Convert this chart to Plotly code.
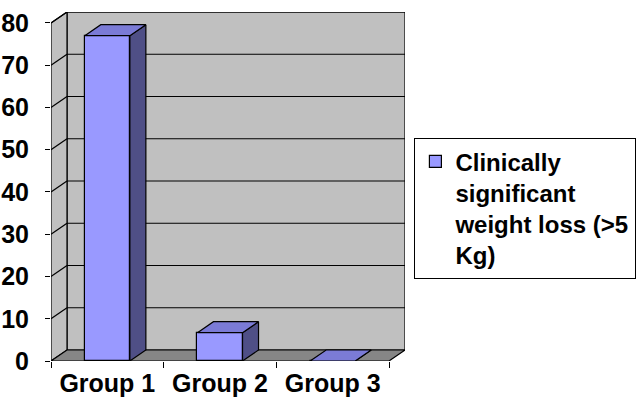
import plotly.graph_objects as go

# Data
groups = ["Group 1", "Group 2", "Group 3"]
weight_loss = [77, 6.7, 0]
y_ticks = [0, 10, 20, 30, 40, 50, 60, 70, 80]
series_name = "Clinically<br>significant<br>weight loss (>5<br>Kg)"

# 3-D look: oblique depth offset expressed in axis units
DX = 0.142          # depth shift along the category axis
DY = 2.6            # depth shift along the value axis
BAR_W = 0.4
X0, X1 = -0.5, len(groups) - 0.5
YMAX = y_ticks[-1]

FRONT = "#9999FF"
TOP = "#7B7BD6"
SIDE = "#4F4F86"
WALL = "#C0C0C0"
FLOOR = "#868686"
FONT = "Liberation Sans, Arial, sans-serif"
FS = 25


def path(pts):
    return "M " + " L ".join(f"{x},{y}" for x, y in pts) + " Z"


shapes = []
# back wall
shapes.append(dict(type="path", xref="x", yref="y", layer="below",
                   path=path([(X0 + DX, DY), (X1 + DX, DY), (X1 + DX, YMAX + DY), (X0 + DX, YMAX + DY)]),
                   fillcolor=WALL, line=dict(color="black", width=1.2)))
# side wall
shapes.append(dict(type="path", xref="x", yref="y", layer="below",
                   path=path([(X0, 0), (X0 + DX, DY), (X0 + DX, YMAX + DY), (X0, YMAX)]),
                   fillcolor=WALL, line=dict(color="black", width=1.2)))
# gridlines on both walls
for v in y_ticks[1:]:
    shapes.append(dict(type="line", xref="x", yref="y", layer="below",
                       x0=X0 + DX, y0=v + DY, x1=X1 + DX, y1=v + DY,
                       line=dict(color="black", width=1.2)))
    shapes.append(dict(type="line", xref="x", yref="y", layer="below",
                       x0=X0, y0=v, x1=X0 + DX, y1=v + DY,
                       line=dict(color="black", width=1.2)))
# floor
shapes.append(dict(type="path", xref="x", yref="y", layer="below",
                   path=path([(X0, 0), (X1, 0), (X1 + DX, DY), (X0 + DX, DY)]),
                   fillcolor=FLOOR, line=dict(color="black", width=1.2)))

fig = go.Figure()

# front faces of the columns
fig.add_trace(go.Bar(
    x=list(range(len(groups))), y=weight_loss, width=BAR_W,
    marker=dict(color=FRONT, line=dict(color="black", width=1.2)),
    name=series_name, showlegend=True, hoverinfo="skip",
))

# side and top faces of each column
for i, v in enumerate(weight_loss):
    xl, xr = i - BAR_W / 2, i + BAR_W / 2
    side = [(xr, 0), (xr + DX, DY), (xr + DX, v + DY), (xr, v), (xr, 0)]
    top = [(xl, v), (xr, v), (xr + DX, v + DY), (xl + DX, v + DY), (xl, v)]
    for pts, col in ((side, SIDE), (top, TOP)):
        fig.add_trace(go.Scatter(
            x=[p[0] for p in pts], y=[p[1] for p in pts],
            mode="lines", fill="toself", fillcolor=col,
            line=dict(color="black", width=1.2),
            showlegend=False, hoverinfo="skip",
        ))

fig.update_layout(
    width=639, height=401,
    margin=dict(l=51, r=234, t=12, b=40, autoexpand=False),
    paper_bgcolor="white", plot_bgcolor="rgba(0,0,0,0)",
    shapes=shapes,
    font=dict(family=FONT, color="black"),
    xaxis=dict(
        range=[X0, X1 + DX], tickmode="array",
        tickvals=list(range(len(groups))), ticktext=groups,
        ticks="", showgrid=False, zeroline=False, showline=False,
        ticklabelstandoff=5,
        tickfont=dict(size=FS, weight="bold", color="black"),
        minor=dict(tickmode="array", tickvals=[X0 + k for k in range(len(groups) + 1)],
                   ticks="outside", ticklen=6, tickcolor="black", tickwidth=1.2, showgrid=False),
    ),
    yaxis=dict(
        range=[0, YMAX + DY], tickmode="array", tickvals=y_ticks,
        ticks="outside", ticklen=5, tickcolor="black", tickwidth=1.2,
        showgrid=False, zeroline=False, showline=False,
        ticklabelstandoff=11,
        tickfont=dict(size=FS, weight="bold", color="black"),
    ),
    legend=dict(
        x=1.026, y=0.639, xanchor="left", yanchor="top",
        bordercolor="black", borderwidth=1.2, bgcolor="white",
        font=dict(size=24, weight="bold", color="black"),
        valign="top",
    ),
    bargap=0,
)

fig.write_html("out.html")
